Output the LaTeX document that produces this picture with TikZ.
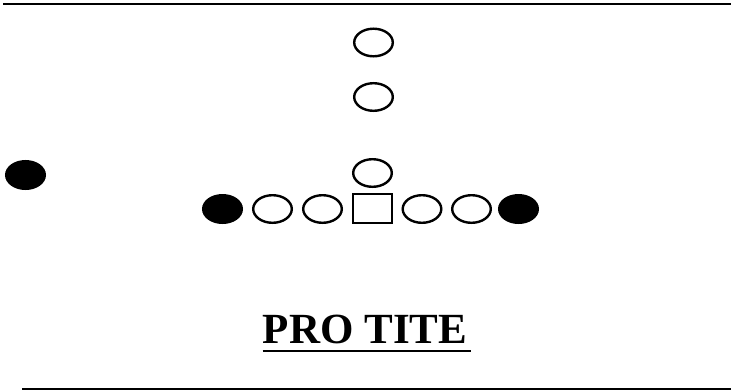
\documentclass[tikz,border=0pt]{standalone}
\usepackage{fontspec}
\setmainfont{Liberation Serif}
\usepackage{tikz}
\usetikzlibrary{shapes.geometric,positioning}
\tikzset{
    % Base player style
    playernode/.style={
        draw=black,
        fill=white,
        ellipse,
        line width=2.4pt,
        inner sep=0pt,
        minimum width=38.6pt,
        minimum height=27.6pt
    },
    % Tight end style
    endnode/.style={
        playernode,
        fill=black
    },
    % Center style
    centernode/.style={
        playernode,
        rectangle,
        minimum height=28.6pt
    },
    % Title style
    titlenode/.style={
        inner sep=0pt,
        anchor=base,
        font=\fontsize{43}{46}\selectfont\bfseries
    },
    % Frame line
    frameline/.style={
        line width=2.4pt,
        draw=black
    }
}
\begin{document}
\begin{tikzpicture}[x=1pt,y=-1pt]
    \useasboundingbox (0,0) rectangle (731,391);
    \draw[frameline] (3,4) -- (731,4);
    \draw[frameline] (22,389) -- (731,389);

    \node[playernode] (fb) at (373.5,42.5) {};
    \node[playernode] (hb) at (373.5,97) {};
    \node[playernode] (qb) at (372.5,173) {};

    \node[endnode] (wr) at (25.5,175) {};

    \node[endnode] (lte) at (222.5,209) {};
    \node[playernode] (lt) at (272.5,209) {};
    \node[playernode] (lg) at (322.5,209) {};
    \node[centernode] (c) at (372.5,208.5) {};
    \node[playernode] (rg) at (422,209) {};
    \node[playernode] (rt) at (471.5,209) {};
    \node[endnode] (rte) at (518.5,209) {};

    \node[titlenode] (title) at (365,343) {PRO TITE};
    \draw[line width=2.8pt] ([yshift=-8pt]title.base west) -- ([xshift=4pt,yshift=-8pt]title.base east);
\end{tikzpicture}
\end{document}
